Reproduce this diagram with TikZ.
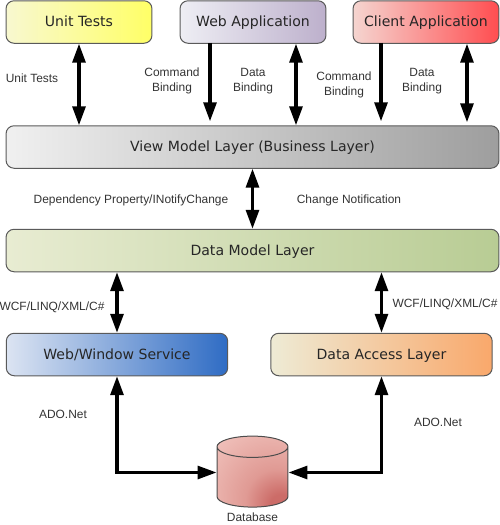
\documentclass[tikz,border=0pt]{standalone}
\usepackage{fontspec}
\setmainfont{DejaVu Sans}
\newfontfamily\labelfont{Liberation Sans}
\usetikzlibrary{arrows.meta,shapes.geometric}
\definecolor{boxline}{HTML}{5A5A5A}
\definecolor{labeltext}{HTML}{333333}
\definecolor{dbdeep}{HTML}{CC6C68}
\definecolor{dbmid}{HTML}{E09A94}
\definecolor{dbpale}{HTML}{F3C8C2}
\definecolor{unitleft}{HTML}{F8F8D0}
\definecolor{unitright}{HTML}{FFFF66}
\definecolor{webleft}{HTML}{EEEEF4}
\definecolor{webright}{HTML}{BDB0CC}
\definecolor{clientleft}{HTML}{F5D5D0}
\definecolor{clientright}{HTML}{FF4D50}
\definecolor{viewleft}{HTML}{F0F0F0}
\definecolor{viewright}{HTML}{9E9E9E}
\definecolor{modelleft}{HTML}{E8ECD2}
\definecolor{modelright}{HTML}{B8CC94}
\definecolor{serviceleft}{HTML}{DCE4F2}
\definecolor{serviceright}{HTML}{2F6CC4}
\definecolor{accessleft}{HTML}{EEEBD5}
\definecolor{accessright}{HTML}{F9A86B}
\pgfdeclareradialshading{dbshade}{\pgfpoint{22bp}{-26bp}}{%
	color(0bp)=(dbdeep); color(8bp)=(dbdeep);
	color(22bp)=(dbmid); color(55bp)=(dbpale); color(100bp)=(dbpale)}
\tikzset{
	layerbox/.style={draw=boxline, line width=0.02cm, rounded corners=0.16cm, minimum height=0.85cm, inner sep=0pt, text height=0.21cm, text depth=0.03cm, text=black!85, font=\fontsize{8}{10}\selectfont},
	topbox/.style={layerbox, minimum width=2.92cm},
	widebox/.style={layerbox, minimum width=9.86cm},
	lowbox/.style={layerbox, minimum width=4.43cm},
	linklabel/.style={text=labeltext, align=center, inner sep=0pt, font=\labelfont\fontsize{6.8}{8.2}\selectfont},
	oneway/.style={line width=0.062cm, -{Triangle[width=0.26cm,length=0.38cm]}},
	twoway/.style={line width=0.062cm, {Triangle[width=0.26cm,length=0.38cm]}-{Triangle[width=0.26cm,length=0.38cm]}}
}
\begin{document}
\begin{tikzpicture}[x=0.02cm, y=-0.02cm]
	\useasboundingbox (0,0) rectangle (500,525);
	% top row
	\node[topbox, left color=unitleft, right color=unitright] (unit) at (79,22) {Unit Tests};
	\node[topbox, left color=webleft, right color=webright] (web) at (253,22) {Web Application};
	\node[topbox, left color=clientleft, right color=clientright] (client) at (426,22) {Client Application};
	% layers
	\node[widebox, left color=viewleft, right color=viewright] (view) at (252.5,147) {View Model Layer (Business Layer)};
	\node[widebox, left color=modelleft, right color=modelright] (model) at (252.5,250.5) {Data Model Layer};
	\node[lowbox, left color=serviceleft, right color=serviceright] (service) at (117,354.5) {Web/Window Service};
	\node[lowbox, left color=accessleft, right color=accessright] (access) at (381.5,354.5) {Data Access Layer};
	% database
	\node[draw=black!70, line width=0.02cm, shape=cylinder, shape border rotate=90, shape aspect=0.3, minimum width=1.42cm, minimum height=1.42cm, inner xsep=0.71cm, inner ysep=0pt, shading=dbshade] (db) at (252.5,482.5) {};
	\node[linklabel] (dblabel) at (252.5,517) {Database};
	% arrows, top
	\draw[twoway] (unit.south) -- (unit.south |- view.north);
	\draw[oneway] ([xshift=-0.86cm, yshift=0.02cm]web.south) -- ([xshift=-0.86cm, yshift=0.08cm]web.south |- view.north);
	\draw[twoway] ([xshift=0.86cm]web.south) -- ([xshift=0.86cm]web.south |- view.north);
	\draw[oneway] ([xshift=-0.9cm, yshift=0.02cm]client.south) -- ([xshift=-0.9cm, yshift=0.08cm]client.south |- view.north);
	\draw[twoway] ([xshift=0.82cm]client.south) -- ([xshift=0.82cm, yshift=0.06cm]client.south |- view.north);
	% arrows, middle
	\draw[twoway] (view.south) -- (model.north);
	\draw[twoway] (service.north |- model.south) -- (service.north);
	\draw[twoway] (access.north |- model.south) -- (access.north);
	% arrows, database
	\draw[twoway] (service.south) |- ([yshift=0.2cm]db.west);
	\draw[twoway] (access.south) |- ([yshift=0.2cm]db.east);
	% labels
	\node[linklabel] (lunit) at (32,78) {Unit Tests};
	\node[linklabel] (lcmdweb) at (172,81) {Command\\Binding};
	\node[linklabel] (ldataweb) at (253,81) {Data\\Binding};
	\node[linklabel] (lcmdclient) at (344,85) {Command\\Binding};
	\node[linklabel] (ldataclient) at (422,81) {Data\\Binding};
	\node[linklabel] (ldep) at (131,200) {Dependency Property/INotifyChange};
	\node[linklabel] (lchange) at (349,200) {Change Notification};
	\node[linklabel] (lwcfleft) at (52,307) {WCF/LINQ/XML/C\#};
	\node[linklabel] (lwcfright) at (445,304) {WCF/LINQ/XML/C\#};
	\node[linklabel] (ladoleft) at (63,414) {ADO.Net};
	\node[linklabel] (ladoright) at (438,422) {ADO.Net};
\end{tikzpicture}
\end{document}
